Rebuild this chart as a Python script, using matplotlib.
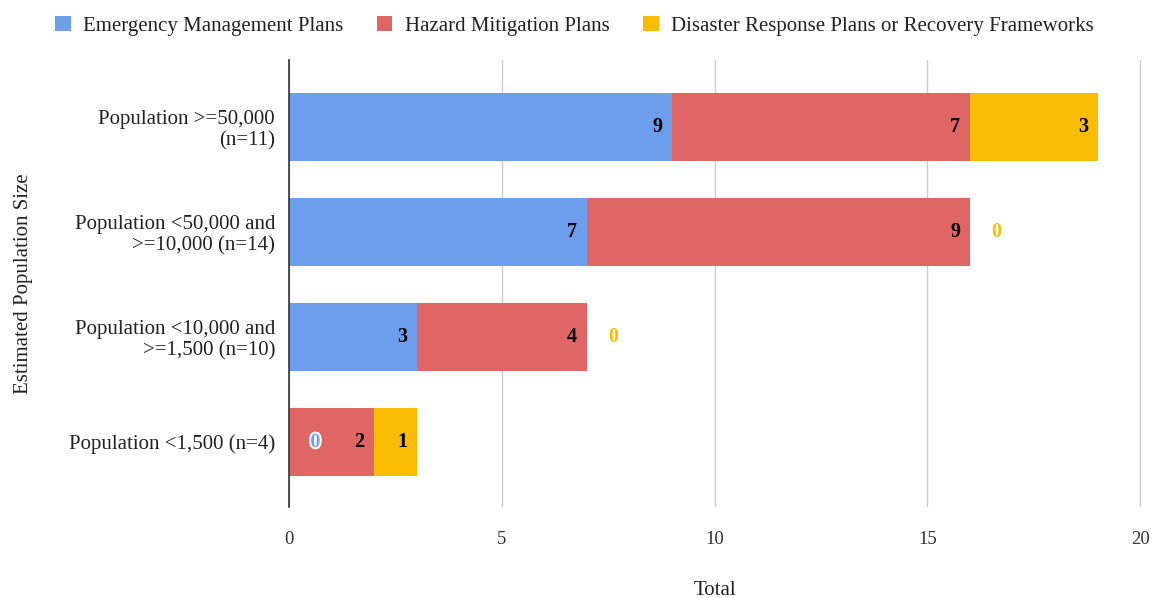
import matplotlib.pyplot as plt
import matplotlib.patheffects as pe
import numpy as np

plt.rcParams['font.family'] = ['Liberation Serif', 'DejaVu Serif']

categories = ['Population >=50,000\n(n=11)',
              'Population <50,000 and\n>=10,000 (n=14)',
              'Population <10,000 and\n>=1,500 (n=10)',
              'Population <1,500 (n=4)']
series_names = ['Emergency Management Plans', 'Hazard Mitigation Plans',
                'Disaster Response Plans or Recovery Frameworks']
emergency = [9, 7, 3, 0]
hazard = [7, 9, 4, 2]
disaster = [3, 0, 0, 1]
colors = ['#6d9eeb', '#e06666', '#fbbc04']

fig = plt.figure(figsize=(11.56, 5.98), dpi=100)
ax = fig.add_axes([0.25, 0.152, 0.737, 0.748])

y = np.arange(len(categories))
left = np.zeros(len(categories))
for name, vals, col in zip(series_names, [emergency, hazard, disaster], colors):
    vals = np.array(vals, dtype=float)
    ax.barh(y, vals, left=left, height=0.64, color=col, label=name, zorder=2)
    for yi, v, l in zip(y, vals, left):
        end = l + v
        if v > 0:
            ax.annotate(str(int(v)), (end, yi), xytext=(-7, 0), textcoords='offset points',
                        ha='right', va='center', fontsize=14.5, fontweight='bold',
                        color='black', zorder=3)
        else:
            # zero values sit just past the end of the stack, in the series colour
            t = ax.annotate('0', (end, yi), xytext=(19, 0), textcoords='offset points',
                            ha='center', va='center', fontsize=14.5, fontweight='bold',
                            color=col, zorder=3)
            if end == 0:
                t.set_path_effects([pe.withStroke(linewidth=3, foreground='white')])
    left = left + vals

ax.set_xlim(0, 20.02)
ax.set_ylim(3.62, -0.64)
ax.set_xticks([0, 5, 10, 15, 20])
ax.set_yticks(y)
ax.set_yticklabels(categories, fontsize=15, color='#222222', linespacing=1.15)
ax.tick_params(axis='x', labelsize=13.5, colors='#333333', length=0, pad=17)
ax.tick_params(axis='y', length=0, pad=10)
ax.grid(axis='x', color='#cccccc', linewidth=1, zorder=0)
for s in ['top', 'right', 'bottom']:
    ax.spines[s].set_visible(False)
ax.spines['left'].set_color('#333333')
ax.spines['left'].set_linewidth(1.2)
ax.spines['left'].set_zorder(4)

ax.set_xlabel('Total', fontsize=15, color='#222222', labelpad=24)
ax.set_ylabel('Estimated Population Size', fontsize=15, color='#222222')
ax.yaxis.set_label_coords(-0.30, 0.5)

fig.legend(loc='upper center', bbox_to_anchor=(0.497, 1.005), ncol=3, frameon=False,
           fontsize=15, handlelength=0.75, handleheight=0.75, handletextpad=0.6,
           columnspacing=1.6, labelcolor='#222222')

fig.savefig('out.png', dpi=100)
